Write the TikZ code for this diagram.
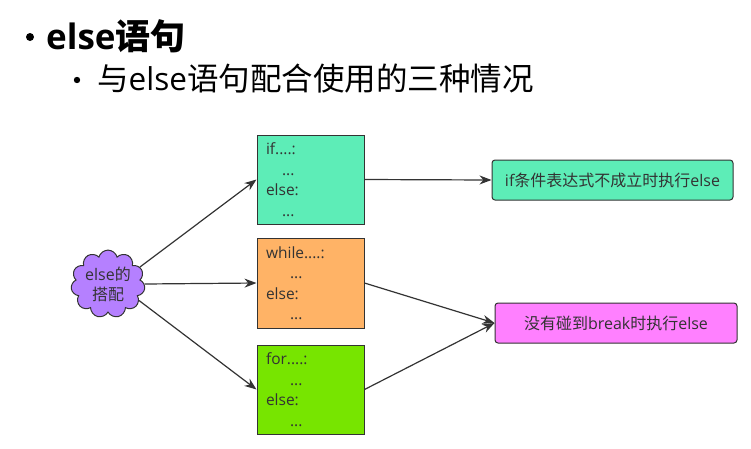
\documentclass[tikz,border=0pt]{standalone}
\usepackage{fontspec}
\setmainfont{Noto Sans CJK SC}
\newfontfamily\latfont{Open Sans}
\usetikzlibrary{shapes.symbols,arrows.meta}
\definecolor{mintgreen}{HTML}{5DEDB7}
\definecolor{looporange}{HTML}{FFB366}
\definecolor{loopgreen}{HTML}{77E500}
\definecolor{breakpink}{HTML}{FF80FF}
\definecolor{cloudpurple}{HTML}{B580FF}
\definecolor{linegray}{HTML}{333333}
\definecolor{textgray}{HTML}{333333}
\tikzset{
  codebox/.style={draw=linegray, line width=1pt, minimum width=107pt, text width=89pt,
    inner xsep=9pt, align=left, text=textgray, font=\latfont\fontsize{15.5}{20.5}\selectfont},
  notebox/.style={draw=linegray, line width=1pt, rounded corners=3pt, minimum height=40pt,
    text=textgray, font=\fontsize{16}{18}\selectfont},
  arr/.style={draw=linegray, line width=1.2pt, -{Stealth[length=12pt,width=9pt]}}
}
\begin{document}
\begin{tikzpicture}[x=1pt,y=-1pt]
  \useasboundingbox (0,0) rectangle (751,448);
  % heading
  \fill (30,37) circle[radius=4pt];
  \node[anchor=west, inner sep=0pt, font=\fontsize{35}{35}\selectfont\bfseries] (titel) at (46,36) {{\latfont\bfseries else}语句};
  \fill (77,80) circle[radius=3.2pt];
  \node[anchor=west, inner sep=0pt, font=\fontsize{31.5}{32}\selectfont] (untertitel) at (97,79) {与{\latfont else}语句配合使用的三种情况};
  % cloud
  \node[cloud, cloud puffs=11, aspect=1.15, draw=linegray, line width=1pt, fill=cloudpurple,
    minimum width=70pt, minimum height=58pt, inner sep=0pt, align=center, text=textgray,
    font=\fontsize{16}{20}\selectfont] (peidui) at (108,284) {{\latfont else}的\\搭配};
  % code boxes
  \node[codebox, fill=mintgreen, minimum height=89pt] (ifbox) at (310.5,179.5)
    {if....:\\\hspace*{16pt}...\\else:\\\hspace*{16pt}...};
  \node[codebox, fill=looporange, minimum height=90pt] (whilebox) at (310.5,283)
    {while....:\\\hspace*{24pt}...\\else:\\\hspace*{24pt}...};
  \node[codebox, fill=loopgreen, minimum height=89pt] (forbox) at (310.5,389.5)
    {for....:\\\hspace*{24pt}...\\else:\\\hspace*{24pt}...};
  % notes
  \node[notebox, fill=mintgreen, minimum width=241pt] (ifnote) at (612.5,180) {{\latfont if}条件表达式不成立时执行{\latfont else}};
  \node[notebox, fill=breakpink, minimum width=242pt] (breaknote) at (616,323) {没有碰到{\latfont break}时执行{\latfont else}};
  % arrows
  \draw[arr] (peidui.28) -- (ifbox.west);
  \draw[arr] (peidui.east) -- (whilebox.west);
  \draw[arr] (peidui.-28) -- (forbox.west);
  \draw[arr] (ifbox.east) -- (ifnote.west);
  \draw[arr] (whilebox.east) -- (breaknote.west);
  \draw[arr] (forbox.east) -- (breaknote.west);
\end{tikzpicture}
\end{document}
